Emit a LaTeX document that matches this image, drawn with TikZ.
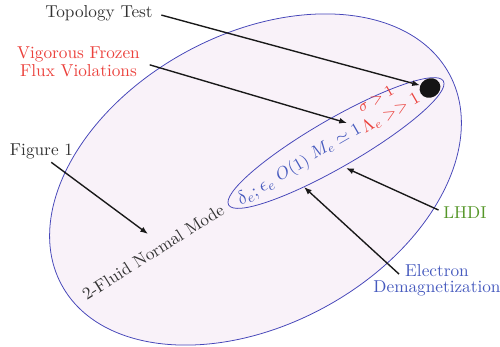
\documentclass[tikz,border=0pt]{standalone}
\usepackage{amsmath,amssymb}
\usetikzlibrary{shapes.geometric,arrows.meta}
\definecolor{fillpink}{RGB}{249,242,249}
\definecolor{edgeblue}{RGB}{70,70,185}
\definecolor{txtblue}{RGB}{70,90,190}
\definecolor{txtred}{RGB}{235,65,60}
\definecolor{txtgreen}{RGB}{85,150,40}
\definecolor{txtgray}{RGB}{50,50,50}
\begin{document}
\begin{tikzpicture}[x=0.58pt,y=-0.58pt,
  lbl/.style={inner sep=0pt, font=\normalsize},
  arr/.style={-{Latex[length=4.5pt,width=3.4pt]}, line width=0.8pt, black!90},
  ring/.style={ellipse, draw=edgeblue, line width=0.45pt, inner sep=0pt}]
\useasboundingbox (0,0) rectangle (500,347);
% regions
\node[ring, fill=fillpink, minimum width=256pt, minimum height=168.5pt, rotate=28.6] (big) at (255.5,179.5) {};
\node[ring, minimum width=143.8pt, minimum height=27.8pt, rotate=30] (thin) at (336,143) {};
\node[ellipse, fill=black!92, minimum width=12.4pt, minimum height=11pt, inner sep=0pt, rotate=30] (dot) at (430,88) {};
% outer labels
\node[lbl, text=txtgray, anchor=base] (topo) at (99,17) {Topology Test};
\node[lbl, text=txtred, align=center] (vig) at (78.5,62) {Vigorous Frozen\\[-1.3pt]Flux Violations};
\node[lbl, text=txtgray, anchor=base] (fig) at (41.5,155) {Figure 1};
\node[lbl, text=txtgray, rotate=32.3] (mode) at (153,252) {2-Fluid Normal Mode};
\node[lbl, text=txtgreen, anchor=base] (lhdi) at (465,218) {LHDI};
\node[lbl, text=txtblue, align=center] (elec) at (437,280.5) {Electron\\[-2.4pt]Demagnetization};
% inner labels
\node[lbl, text=txtblue, rotate=30, font=\fontsize{11.2}{13}\selectfont] (de) at (256,191) {$\delta_e;\epsilon_e$};
\node[lbl, text=txtblue, rotate=30] (o1) at (293,169) {$O(1)$};
\node[lbl, text=txtblue, rotate=30] (me) at (336,142) {$M_e\simeq 1$};
\node[lbl, text=txtred, rotate=30, font=\small] (sig) at (376,99) {$\sigma>1$};
\node[lbl, text=txtred, rotate=30] (lam) at (391,113) {$\Lambda_e>>1$};
% arrow ends
\coordinate (tvig) at (347,123);
\coordinate (tfig) at (148,234);
\coordinate (tlhdi) at (346,168);
\coordinate (telec) at (304,187);
% connectors
\draw[arr, shorten <=5pt] (topo.east) -- (dot);
\draw[arr, shorten <=5.8pt] (vig.east) -- (tvig);
\draw[arr, shorten <=3.3pt] ([xshift=3pt]fig.south) -- (tfig);
\draw[arr, shorten <=2.9pt] (lhdi.west) -- (tlhdi);
\draw[arr] ([xshift=-22pt,yshift=-5.8pt]elec.north) -- (telec);
\end{tikzpicture}
\end{document}
